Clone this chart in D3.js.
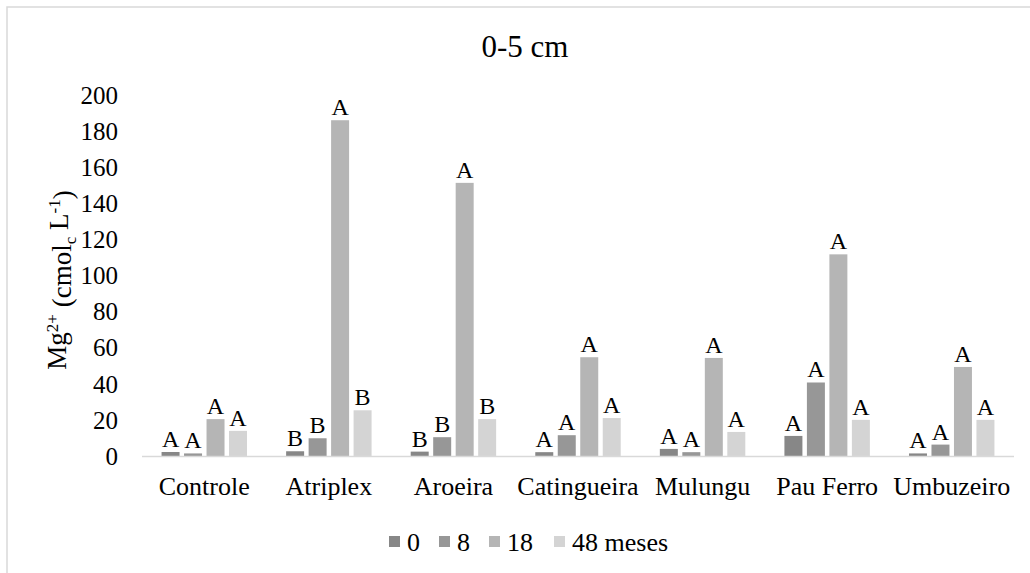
<!DOCTYPE html>
<html>
<head>
<meta charset="utf-8">
<script src="https://cdn.jsdelivr.net/npm/d3@7"></script>
<style>
  body { margin: 0; background: #fff; }
</style>
</head>
<body>
<div id="chart"></div>
<script>
// categories and series (Mg2+ values)
var categories = ["Controle", "Atriplex", "Aroeira", "Catingueira", "Mulungu", "Pau Ferro", "Umbuzeiro"];
var seriesNames = ["0", "8", "18", "48 meses"];
var m0  = [2.5, 2.9, 2.7, 2.4, 4.2, 11.4, 1.7];
var m8  = [1.7, 10.1, 10.7, 11.8, 2.4, 41, 6.6];
var m18 = [20.7, 186.3, 151.6, 55, 54.6, 112, 49.6];
var m48 = [14.2, 25.6, 20.7, 21.3, 13.6, 20.3, 20.3];
// significance letters
var l0  = ["A", "B", "B", "A", "A", "A", "A"];
var l8  = ["A", "B", "B", "A", "A", "A", "A"];
var l18 = ["A", "A", "A", "A", "A", "A", "A"];
var l48 = ["A", "B", "B", "A", "A", "A", "A"];
var yTicks = [0, 20, 40, 60, 80, 100, 120, 140, 160, 180, 200];

var colors = ["#878787", "#979797", "#b5b5b5", "#d4d4d4"];
var values = [m0, m8, m18, m48];
var letters = [l0, l8, l18, l48];
var FONT = "'Liberation Serif'";

var width = 1030, height = 573;
var svg = d3.select("#chart").append("svg")
    .attr("width", width)
    .attr("height", height);

// outer frame (only top and left visible)
svg.append("path")
    .attr("d", "M7," + height + "V7H" + width)
    .attr("fill", "none")
    .attr("stroke", "#d9d9d9")
    .attr("stroke-width", 1.5);

// scales
var x0 = d3.scaleBand().domain(categories).range([142, 1014]);
var x1 = d3.scaleBand().domain(seriesNames).range([0, x0.step()])
    .paddingInner(0.2).paddingOuter(0.87);
var y = d3.scaleLinear().domain([0, 200]).range([456.5, 95.5]);

// title
svg.append("text")
    .attr("x", 525).attr("y", 57)
    .attr("text-anchor", "middle")
    .style("font-family", FONT)
    .style("font-size", "31px")
    .text("0-5 cm");

// y tick labels
svg.append("g").selectAll("text")
    .data(yTicks).enter().append("text")
    .attr("x", 118)
    .attr("y", function (d) { return y(d); })
    .attr("dy", "0.33em")
    .attr("text-anchor", "end")
    .style("font-family", FONT)
    .style("font-size", "25px")
    .text(function (d) { return d; });

// y axis title
var yt = svg.append("text")
    .attr("transform", "translate(66,280) rotate(-90)")
    .attr("text-anchor", "middle")
    .style("font-family", FONT)
    .style("font-size", "27px");
yt.append("tspan").text("Mg");
yt.append("tspan").attr("dy", "-0.45em").style("font-size", "17px").text("2+");
yt.append("tspan").attr("dy", "0.45em").text(" (cmol");
yt.append("tspan").attr("dy", "0.3em").style("font-size", "17px").text("c");
yt.append("tspan").attr("dy", "-0.3em").text(" L");
yt.append("tspan").attr("dy", "-0.45em").style("font-size", "17px").text("-1");
yt.append("tspan").attr("dy", "0.45em").text(")");

// bars
var groups = svg.append("g").selectAll("g")
    .data(categories).enter().append("g")
    .attr("transform", function (d) { return "translate(" + x0(d) + ",0)"; });

seriesNames.forEach(function (s, si) {
    groups.append("rect")
        .attr("x", x1(s))
        .attr("width", x1.bandwidth())
        .attr("y", function (d, i) { return y(values[si][i]); })
        .attr("height", function (d, i) { return y(0) - y(values[si][i]); })
        .attr("fill", colors[si]);

    groups.append("text")
        .attr("x", x1(s) + x1.bandwidth() / 2)
        .attr("y", function (d, i) { return y(values[si][i]) - 5; })
        .attr("text-anchor", "middle")
        .style("font-family", FONT)
        .style("font-size", "24px")
        .text(function (d, i) { return letters[si][i]; });
});

// x axis line
svg.append("line")
    .attr("x1", 142).attr("x2", 1014)
    .attr("y1", y(0)).attr("y2", y(0))
    .attr("stroke", "#d9d9d9")
    .attr("stroke-width", 1.5);

// category labels
svg.append("g").selectAll("text")
    .data(categories).enter().append("text")
    .attr("x", function (d) { return x0(d) + x0.bandwidth() / 2; })
    .attr("y", 495)
    .attr("text-anchor", "middle")
    .style("font-family", FONT)
    .style("font-size", "26px")
    .text(function (d) { return d; });

// legend
var legendX = [389, 439, 489, 554];
var legend = svg.append("g").selectAll("g")
    .data(seriesNames).enter().append("g")
    .attr("transform", function (d, i) { return "translate(" + legendX[i] + ",0)"; });
legend.append("rect")
    .attr("y", 536).attr("width", 11).attr("height", 11)
    .attr("fill", function (d, i) { return colors[i]; });
legend.append("text")
    .attr("x", 18).attr("y", 551)
    .style("font-family", FONT)
    .style("font-size", "26px")
    .text(function (d) { return d; });
</script>
</body>
</html>
